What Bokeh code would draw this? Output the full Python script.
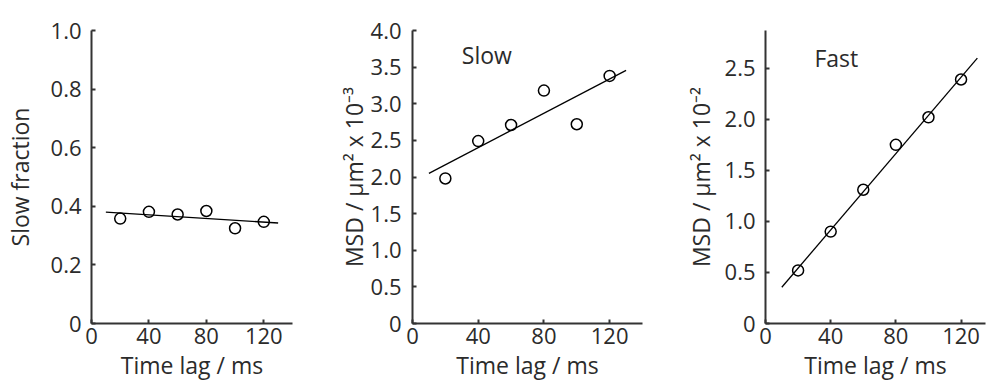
from bokeh.plotting import figure
from bokeh.layouts import row
from bokeh.models import Range1d, FixedTicker, Label
from bokeh.embed import file_html
from bokeh.resources import INLINE

# ---- data ----
time_lag = [20, 40, 60, 80, 100, 120]
slow_fraction = [0.358, 0.381, 0.372, 0.384, 0.325, 0.347]
msd_slow = [1.98, 2.49, 2.71, 3.18, 2.72, 3.38]
msd_fast = [0.52, 0.90, 1.31, 1.75, 2.02, 2.39]

fit_x = [10, 130]
slow_fraction_fit = [0.380, 0.343]
msd_slow_fit = [2.05, 3.456]
msd_fast_fit = [0.355, 2.60]

x_ticks = [0, 40, 80, 120]
frac_ticks = [0, 0.2, 0.4, 0.6, 0.8, 1.0]
frac_tick_labels = ["0", "0.2", "0.4", "0.6", "0.8", "1.0"]
slow_ticks = [0, 0.5, 1.0, 1.5, 2.0, 2.5, 3.0, 3.5, 4.0]
slow_tick_labels = ["0", "0.5", "1.0", "1.5", "2.0", "2.5", "3.0", "3.5", "4.0"]
fast_ticks = [0, 0.5, 1.0, 1.5, 2.0, 2.5]
fast_tick_labels = ["0", "0.5", "1.0", "1.5", "2.0", "2.5"]

FONT = "Open Sans"
TXT = "#2b2b2b"
AX = "#333333"


def panel(width, xmax, ymax, left, right, top, ylabel, yticks, ylabels, y, yfit,
          ylab_standoff, ytick_standoff):
    p = figure(width=width, height=383, x_range=Range1d(0, xmax), y_range=Range1d(0, ymax),
               output_backend="svg", toolbar_location=None,
               min_border_left=left, min_border_right=right,
               min_border_top=top, min_border_bottom=60)
    p.outline_line_color = None
    p.grid.visible = False
    p.background_fill_color = "white"
    p.border_fill_color = "white"
    for ax in (p.xaxis[0], p.yaxis[0]):
        ax.axis_line_width = 2
        ax.axis_line_color = AX
        ax.major_tick_line_color = AX
        ax.major_tick_line_width = 2
        ax.major_tick_in = 4
        ax.major_tick_out = 0
        ax.minor_tick_line_color = None
        ax.major_label_text_font = FONT
        ax.major_label_text_font_size = "22px"
        ax.major_label_text_color = TXT
        ax.axis_label_text_font = FONT
        ax.axis_label_text_font_size = "23px"
        ax.axis_label_text_color = TXT
        ax.axis_label_text_font_style = "normal"
    p.xaxis.ticker = FixedTicker(ticks=x_ticks)
    p.xaxis.major_label_standoff = 4
    p.xaxis.axis_label = "Time lag / ms"
    p.xaxis.axis_label_standoff = 2
    p.yaxis.ticker = FixedTicker(ticks=yticks)
    p.yaxis.major_label_overrides = {t: l for t, l in zip(yticks, ylabels)}
    p.yaxis.major_label_standoff = ytick_standoff
    p.yaxis.axis_label = ylabel
    p.yaxis.axis_label_standoff = ylab_standoff

    p.line(fit_x, yfit, line_width=1.3, line_color="black")
    p.scatter(time_lag, y, marker="circle", size=11, fill_color=None,
              line_color="black", line_width=1.5)
    return p


p1 = panel(330, 140, 1.0, 90, 38, 25, "Slow fraction", frac_ticks, frac_tick_labels,
           slow_fraction, slow_fraction_fit, 12, 10)
p2 = panel(330, 140, 4.0, 82, 18, 30, "MSD / µm² x 10⁻³", slow_ticks, slow_tick_labels,
           msd_slow, msd_slow_fit, -2, 11)
p3 = panel(327, 135, 2.87, 105, 2, 26, "MSD / µm² x 10⁻²", fast_ticks, fast_tick_labels,
           msd_fast, msd_fast_fit, 5, 10)

p2.add_layout(Label(x=30, y=3.667, text="Slow", text_font=FONT, text_font_size="23px",
                    text_color=TXT, text_baseline="alphabetic"))
p3.add_layout(Label(x=30, y=2.60, text="Fast", text_font=FONT, text_font_size="23px",
                    text_color=TXT, text_baseline="alphabetic"))

layout = row(p1, p2, p3, spacing=0)
open("out.html", "w").write(file_html(layout, INLINE))
